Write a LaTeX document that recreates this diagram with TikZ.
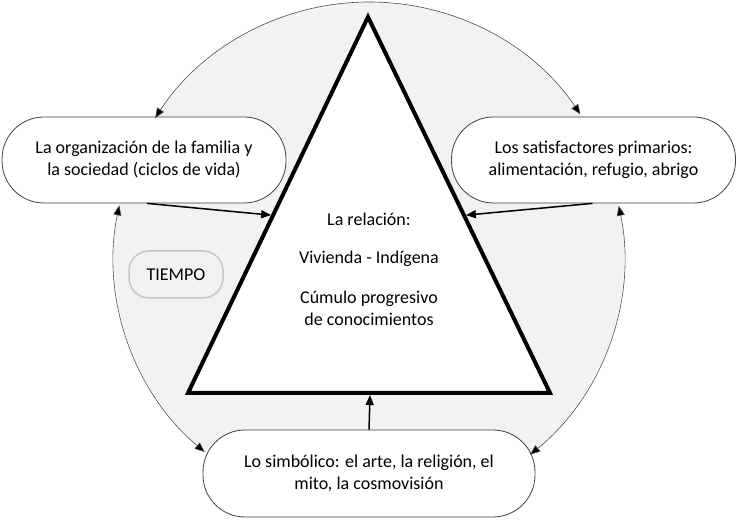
\documentclass[tikz,border=0pt]{standalone}
\usepackage{fontspec}
\setmainfont{Carlito}
\usetikzlibrary{arrows.meta,calc,positioning}
\definecolor{ringgray}{RGB}{242,242,242}
\tikzset{
  cvBox/.style={draw=black!75, fill=white, rounded corners=42pt, line width=0.8pt,
    minimum width=284pt, minimum height=86pt, inner sep=0pt,
    font=\fontsize{18}{22}\selectfont, align=center},
  cvTime/.style={draw=black!22, fill=ringgray, rounded corners=20pt, line width=1.5pt,
    minimum width=94pt, minimum height=47pt, inner sep=0pt,
    font=\fontsize{18}{22}\selectfont},
  %% Arrows
  cvarc/.style={{Triangle[length=10pt,width=8pt,fill=black]}-{Triangle[length=10pt,width=8pt,fill=black]},
    draw=black!70, line width=0.6pt},
  cvmsg/.style={-{Triangle[length=10pt,width=8pt]}, line width=1.5pt},
}

\begin{document}
\begin{tikzpicture}[x=1pt, y=1pt, font=\fontsize{18}{22}\selectfont]
\useasboundingbox (0,0) rectangle (736,521);

%% Ring behind everything
\coordinate (ctr) at (369,264);
\fill[ringgray] (ctr) circle[radius=255pt];

%% Outer boxes
\node[cvBox]                   (org) at (144,361)   {La organización de la familia y\\la sociedad (ciclos de vida)};
\node[cvBox]                   (sat) at (593.5,361) {Los satisfactores primarios:\\alimentación, refugio, abrigo};
\node[cvBox, minimum width=332pt, minimum height=87pt]
                               (sim) at (369,47.5)  {Lo simbólico: el arte, la religión, el\\mito, la cosmovisión};
\node[cvTime]                  (tiempo) at (176,246.5) {TIEMPO};

%% Ring arcs
\draw[cvarc] ([shift={(34:255pt)}]ctr) arc[start angle=34, end angle=147, radius=255pt];
\draw[cvarc] ([shift={(168.3:255pt)}]ctr) arc[start angle=168.3, end angle=229.9, radius=255pt];
\draw[cvarc] ([shift={(11.6:255pt)}]ctr) arc[start angle=11.6, end angle=-50.8, radius=255pt];

%% Triangle
\coordinate (tA) at (368,504);
\coordinate (tL) at (188,128);
\coordinate (tR) at (550,128);
\draw[line width=4pt, fill=white, line join=miter] (tA) -- (tL) -- (tR) -- cycle;
\node[align=center] (rel) at (369,252)
  {La relación:\\[16pt]Vivienda - Indígena\\[18pt]Cúmulo progresivo\\de conocimientos};

%% Arrows into the triangle
\draw[cvmsg] ([xshift=3pt]org.south) -- ($(tL)!0.473!(tA)+(-2,0)$);
\draw[cvmsg] ([xshift=-1pt]sat.south) -- ($(tR)!0.473!(tA)+(2,0)$);
\draw[cvmsg] (sim.north) -- ($(tL)!0.5!(tR)+(1,-2)$);

\end{tikzpicture}
\end{document}
